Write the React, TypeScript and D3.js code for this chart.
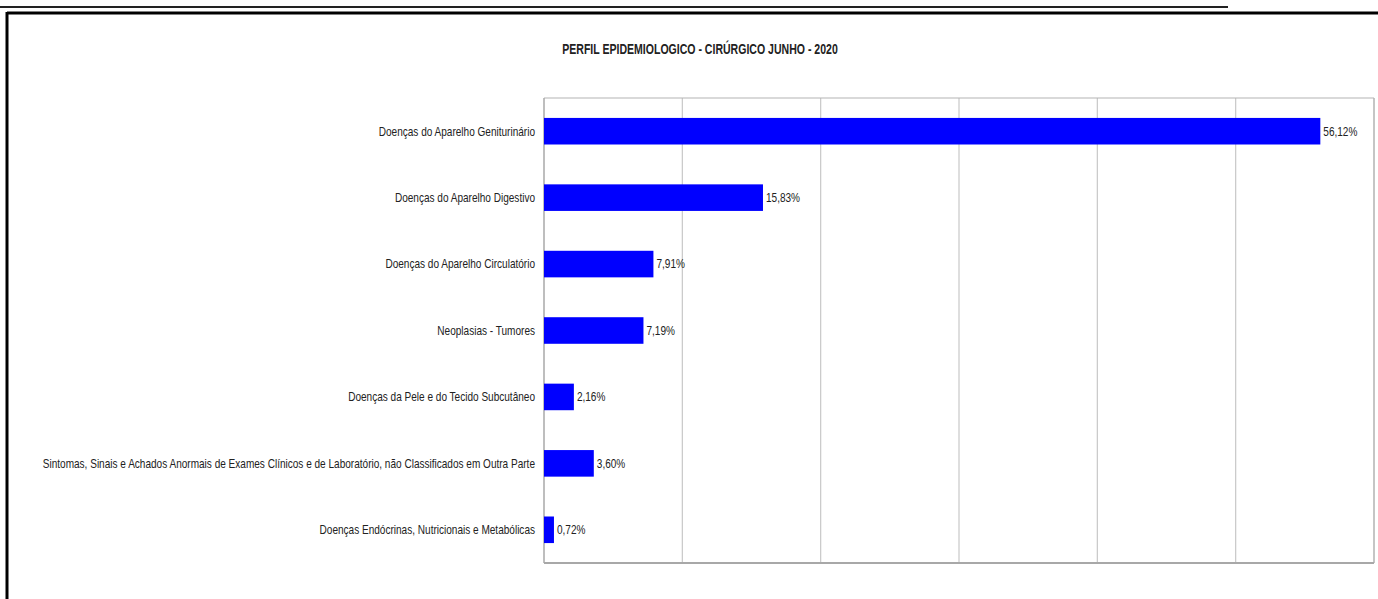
import React from "react";
import * as d3 from "d3";

const categories = [
  "Doenças do Aparelho Geniturinário",
  "Doenças do Aparelho Digestivo",
  "Doenças do Aparelho Circulatório",
  "Neoplasias - Tumores",
  "Doenças da Pele e do Tecido Subcutâneo",
  "Sintomas, Sinais e Achados Anormais de Exames Clínicos e de Laboratório, não Classificados em Outra Parte",
  "Doenças Endócrinas, Nutricionais e Metabólicas",
];
const values = [56.12, 15.83, 7.91, 7.19, 2.16, 3.6, 0.72];
const ticks = [0, 10, 20, 30, 40, 50, 60];
const title = "PERFIL EPIDEMIOLOGICO - CIRÚRGICO JUNHO - 2020";

const W = 1378;
const H = 599;
const FONT = "'Liberation Sans', Arial, sans-serif";

let ctx: CanvasRenderingContext2D | null = null;
function measure(text: string, size: number, weight = "normal") {
  if (!ctx) ctx = document.createElement("canvas").getContext("2d");
  ctx!.font = `${weight} ${size}px 'Liberation Sans', Arial, sans-serif`;
  return ctx!.measureText(text).width;
}

export default function App() {
  const left = 544, right = 1374, top = 98, bottom = 563;
  const x = d3.scaleLinear().domain([0, 60]).range([left, right]);
  const y = d3.scaleBand<string>().domain(categories).range([top, bottom]).paddingInner(0.6).paddingOuter(0.3);
  const fmt = (v: number) => v.toFixed(2).replace(".", ",") + "%";
  const LS = 12.5;
  const TS = 15;
  const labelK = 494 / measure(categories[5], LS);
  const titleK = 276 / measure(title, TS, "bold");
  return (
    <svg width={W} height={H} style={{ position: "absolute", left: 0, top: 0, background: "#fff" }}>
      <line x1={0} x2={1228} y1={7} y2={7} stroke="#222" strokeWidth={2} />
      <line x1={7} x2={W} y1={13} y2={13} stroke="#000" strokeWidth={3} />
      <line x1={7} x2={7} y1={12} y2={H} stroke="#000" strokeWidth={3} />
      <text transform={`translate(700,54) scale(${titleK},1)`} textAnchor="middle" fontFamily={FONT}
        fontWeight="bold" fontSize={TS} fill="#222">
        {title}
      </text>
      {ticks.map((t) => (
        <line key={t} x1={x(t)} x2={x(t)} y1={top} y2={bottom} stroke="#c8c8c8" strokeWidth={1.2} />
      ))}
      <line x1={left} x2={right} y1={top} y2={top} stroke="#b4b4b4" strokeWidth={1.2} />
      <line x1={right} x2={right} y1={top} y2={bottom} stroke="#b4b4b4" strokeWidth={1.2} />
      <line x1={left} x2={right} y1={bottom} y2={bottom} stroke="#a8a8a8" strokeWidth={2} />
      <line x1={left} x2={left} y1={top} y2={bottom} stroke="#a8a8a8" strokeWidth={1.2} />
      {categories.map((c, i) => {
        const yy = y(c)!;
        const bw = y.bandwidth();
        const cy = yy + bw / 2;
        const v = fmt(values[i]);
        return (
          <g key={c}>
            <rect x={x(0)} y={yy} width={x(values[i]) - x(0)} height={bw} fill="#0000ff" />
            <text transform={`translate(${x(values[i]) + 3},${cy}) scale(${labelK},1)`} dy="0.35em"
              fontFamily={FONT} fontSize={LS} fill="#222">
              {v}
            </text>
            <text transform={`translate(535,${cy}) scale(${labelK},1)`} dy="0.35em" textAnchor="end"
              fontFamily={FONT} fontSize={LS} fill="#222">
              {c}
            </text>
          </g>
        );
      })}
    </svg>
  );
}
